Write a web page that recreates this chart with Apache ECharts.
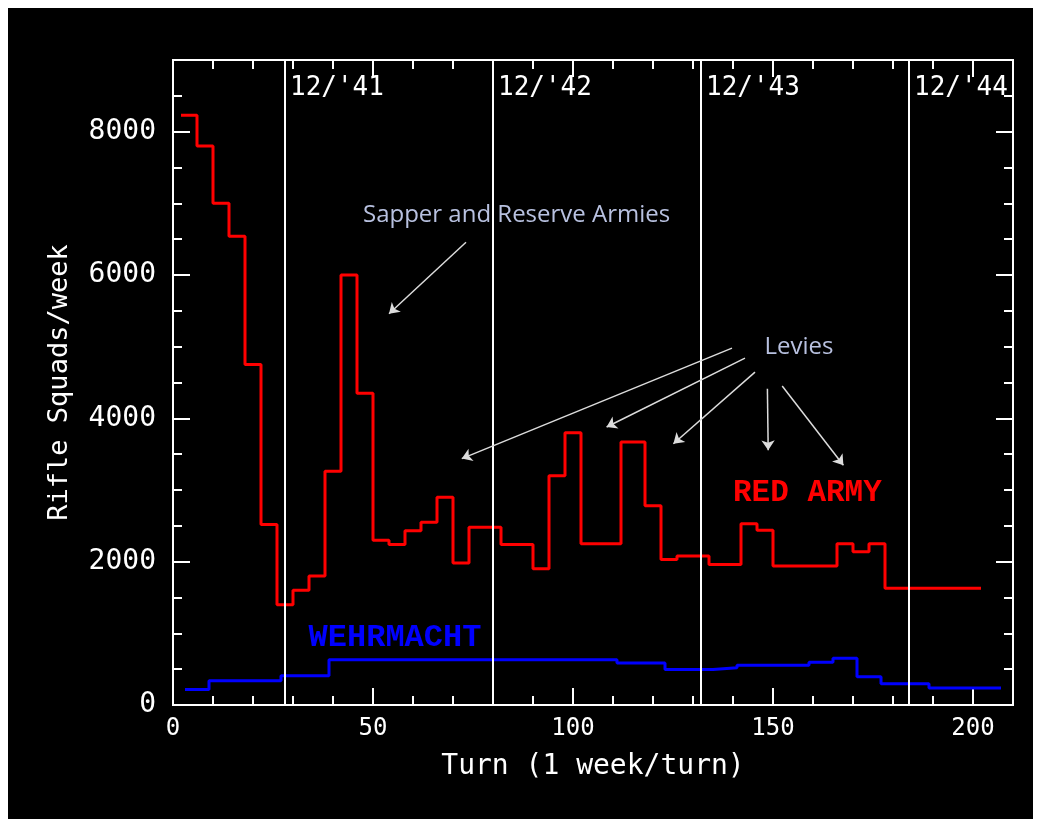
<!DOCTYPE html>
<html><head><meta charset="utf-8">
<script src="https://cdn.jsdelivr.net/npm/echarts@6/dist/echarts.min.js"></script>
<style>
html,body{margin:0;padding:0;background:#fff;}
#chart{position:absolute;left:8px;top:8px;width:1025px;height:811px;background:#000;}
</style></head><body><div id="chart"></div>
<script>
// Red Army rifle squads per week (step changes at these turns)
const redTurns  = [2, 6, 10, 14, 18, 22, 26, 30, 34, 38, 42, 46, 50, 54, 58, 62, 66, 70, 74, 82, 90, 94, 98, 102, 112, 118, 122, 126, 134, 142, 146, 150, 166, 170, 174, 178, 202];
const redValues = [8230, 7800, 7000, 6540, 4750, 2520, 1400, 1600, 1800, 3260, 6000, 4350, 2300, 2240, 2430, 2550, 2900, 1980, 2480, 2240, 1900, 3200, 3800, 2250, 3670, 2780, 2030, 2080, 1960, 2530, 2440, 1940, 2250, 2140, 2250, 1630, 1630];
// Wehrmacht rifle squads per week
const blueTurns  = [3, 9, 27, 39, 111, 123, 135, 141, 159, 165, 171, 177, 189, 207];
const blueValues = [218, 340, 408, 630, 585, 495, 520, 555, 597, 652, 395, 297, 237, 237];
// December markers
const yearTurns  = [28, 80, 132, 184];
const yearLabels = ["12/'41", "12/'42", "12/'43", "12/'44"];
// Annotations
const noteTexts = ['Sapper and Reserve Armies', 'Levies', 'RED ARMY', 'WEHRMACHT'];
const notePos   = [[85.9, 6829], [156.5, 4990], [158.6, 2962], [55.5, 930]];
const arrowFrom = [[73.25, 6457], [139.75, 4980], [143, 4840], [145.5, 4645], [148.6, 4413], [152.3, 4450]];
const arrowTo   = [[54, 5459], [72.2, 3438], [108.4, 3879], [125.1, 3646], [148.8, 3554], [167.6, 3345]];

const MONO = 'DejaVu Sans Mono';
const noteStyles = [
  {fontFamily: 'Open Sans', fontSize: 24, color: '#b8c1e0'},
  {fontFamily: 'Open Sans', fontSize: 24, color: '#b8c1e0'},
  {fontFamily: 'Liberation Mono', fontWeight: 'bold', fontSize: 31, color: '#ff0000'},
  {fontFamily: 'Liberation Mono', fontWeight: 'bold', fontSize: 32, color: '#0000ff'}
];

function xAx(pos, interval, len, labels) {
  return {
    type: 'value', position: pos, min: 0, max: 210, interval: interval,
    axisLine: {show: true, onZero: false, lineStyle: {color: '#fff', width: 2}},
    axisTick: {show: true, inside: true, length: len, lineStyle: {color: '#fff', width: 2}},
    axisLabel: {show: labels, color: '#fff', fontFamily: MONO, fontSize: 24, margin: 12,
      formatter: v => (v === 210 ? '' : String(v))},
    splitLine: {show: false},
    name: labels ? 'Turn (1 week/turn)' : '',
    nameLocation: 'middle', nameGap: 48,
    nameTextStyle: {color: '#fff', fontFamily: MONO, fontSize: 28}
  };
}
function yAx(pos, interval, len, labels) {
  return {
    type: 'value', position: pos, min: 0, max: 9000, interval: interval,
    axisLine: {show: true, onZero: false, lineStyle: {color: '#fff', width: 2}},
    axisTick: {show: true, inside: true, length: len, lineStyle: {color: '#fff', width: 2}},
    axisLabel: {show: labels, color: '#fff', fontFamily: MONO, fontSize: 28, margin: 17,
      formatter: v => (v === 9000 ? '' : String(v))},
    splitLine: {show: false},
    name: labels ? 'Rifle Squads/week' : '',
    nameLocation: 'middle', nameGap: 100,
    nameTextStyle: {color: '#fff', fontFamily: MONO, fontSize: 27}
  };
}

const chart = echarts.init(document.getElementById('chart'));
chart.setOption({
  backgroundColor: '#000',
  animation: false,
  grid: {left: 165, top: 52, right: 20, bottom: 114},
  xAxis: [xAx('bottom', 50, 17, true), xAx('bottom', 10, 9, false), xAx('top', 50, 17, false), xAx('top', 10, 9, false)],
  yAxis: [yAx('left', 2000, 17, true), yAx('left', 500, 9, false), yAx('right', 2000, 17, false), yAx('right', 500, 9, false)],
  series: [
    {
      name: 'years', type: 'scatter', silent: true, z: 1,
      symbolSize: 0,
      itemStyle: {opacity: 1},
      data: yearTurns.map(t => [t, 8600]),
      label: {show: true, position: 'right', distance: 5, color: '#fff', fontFamily: MONO, fontSize: 26,
        formatter: p => yearLabels[p.dataIndex]},
      markLine: {
        silent: true, symbol: ['none', 'none'],
        lineStyle: {color: '#fff', width: 2, type: 'solid', opacity: 1},
        label: {show: false},
        data: yearTurns.map(t => ({xAxis: t}))
      }
    },
    {
      name: 'RED ARMY', type: 'line', step: 'end', silent: true, z: 3,
      symbol: 'none',
      lineStyle: {color: '#ff0000', width: 3},
      data: redTurns.map((t, i) => [t, redValues[i]])
    },
    {
      name: 'WEHRMACHT', type: 'line', step: 'end', silent: true, z: 3,
      symbol: 'none',
      lineStyle: {color: '#0000ff', width: 3},
      data: blueTurns.map((t, i) => [t, blueValues[i]])
    },
    {
      name: 'notes', type: 'scatter', silent: true, z: 4,
      symbolSize: 0,
      itemStyle: {opacity: 1},
      data: notePos.map((p, i) => ({
        value: p,
        label: Object.assign({show: true, position: 'inside', formatter: noteTexts[i]}, noteStyles[i])
      })),
      markLine: {
        silent: true, symbol: ['none', 'arrow'], symbolSize: 10,
        lineStyle: {color: '#dcdcdc', width: 1.5, type: 'solid', opacity: 1},
        label: {show: false},
        data: arrowFrom.map((f, i) => [{coord: f}, {coord: arrowTo[i]}])
      }
    }
  ]
});
</script></body></html>
